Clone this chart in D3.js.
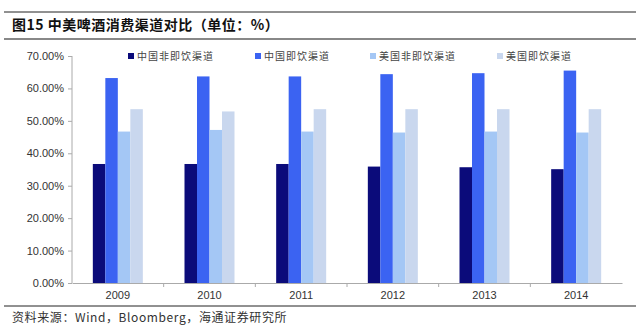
<!DOCTYPE html>
<html><head><meta charset="utf-8">
<script src="https://cdn.jsdelivr.net/npm/d3@7"></script>
<style>body{margin:0;background:#fff}svg{display:block}</style>
</head><body><svg id="c" width="640" height="331"></svg>
<script>
const categories = ["2009","2010","2011","2012","2013","2014"];
const seriesNames = ["中国非即饮渠道","中国即饮渠道","美国非即饮渠道","美国即饮渠道"];
const cnOff = [36.7,36.7,36.7,35.9,35.7,35.1];
const cnOn  = [63.2,63.7,63.7,64.4,64.7,65.5];
const usOff = [46.7,47.2,46.7,46.4,46.7,46.4];
const usOn  = [53.6,52.9,53.6,53.6,53.6,53.6];
const yTicks = [0,10,20,30,40,50,60,70];
const colors = ["#0b0b7a","#3b63f2","#a4c7f5","#c9d7ee"];
const series = [cnOff,cnOn,usOff,usOn];

const svg = d3.select("#c");
const cjk = "'Noto Sans CJK SC','Noto Sans',sans-serif";
const lat = "'Liberation Sans',Arial,sans-serif";

// header rules and title
svg.append("line").attr("x1",4).attr("x2",636).attr("y1",12).attr("y2",12).attr("stroke","#222").attr("stroke-width",1);
svg.append("line").attr("x1",4).attr("x2",636).attr("y1",39).attr("y2",39).attr("stroke","#888").attr("stroke-width",2);
svg.append("text").attr("x",12).attr("y",30).attr("font-family",cjk).attr("font-weight","bold").attr("font-size",14).attr("fill","#111")
  .attr("letter-spacing",0.5)
  .text("图15 中美啤酒消费渠道对比（单位：%）");

const x0 = d3.scaleBand().domain(categories).range([72,622]);
const x1 = d3.scaleBand().domain(d3.range(4)).range([0,50]);
const y = d3.scaleLinear().domain([0,70]).range([283,56]);

// bars
const g = svg.append("g");
categories.forEach((c,i)=>{
  series.forEach((s,j)=>{
    g.append("rect")
      .attr("x", x0(c)+x0.bandwidth()/2-25 + x1(j))
      .attr("width", x1.bandwidth())
      .attr("y", y(s[i]))
      .attr("height", y(0)-y(s[i]))
      .attr("fill", colors[j]);
  });
});

// y axis
const ya = svg.append("g").attr("transform","translate(72,0)")
  .call(d3.axisLeft(y).tickValues(yTicks).tickSize(4).tickFormat(d=>d.toFixed(2)+"%"));
ya.select(".domain").attr("stroke","#aaa").attr("d","M0,56V283");
ya.selectAll(".tick line").attr("stroke","#aaa");
ya.selectAll(".tick text").attr("font-family",lat).attr("font-size",11).attr("fill","#333").attr("x",-8);

// x axis
const xa = svg.append("g").attr("transform","translate(0,283)")
  .call(d3.axisBottom(x0).tickSize(0).tickSizeOuter(0));
xa.select(".domain").attr("stroke","#aaa");
xa.selectAll(".tick text").attr("font-family",lat).attr("font-size",11).attr("fill","#333").attr("dy","1.2em");
xa.selectAll("line.sep").data(categories.slice(1)).enter().append("line").attr("class","sep")
  .attr("x1",d=>x0(d)).attr("x2",d=>x0(d)).attr("y1",0).attr("y2",4).attr("stroke","#aaa");

// legend
const legX = [128,255,370,497];
seriesNames.forEach((n,j)=>{
  svg.append("rect").attr("x",legX[j]).attr("y",53).attr("width",6).attr("height",6).attr("fill",colors[j]);
  svg.append("text").attr("x",legX[j]+9).attr("y",60).attr("font-family",cjk).attr("font-size",10).attr("fill","#444")
    .attr("letter-spacing",1).text(n);
});

// footer
svg.append("line").attr("x1",4).attr("x2",636).attr("y1",306).attr("y2",306).attr("stroke","#222").attr("stroke-width",1);
svg.append("text").attr("x",12).attr("y",322).attr("font-family",cjk).attr("font-size",12).attr("fill","#333")
  .attr("letter-spacing",0.6)
  .text("资料来源：Wind，Bloomberg，海通证券研究所");
</script></body></html>
